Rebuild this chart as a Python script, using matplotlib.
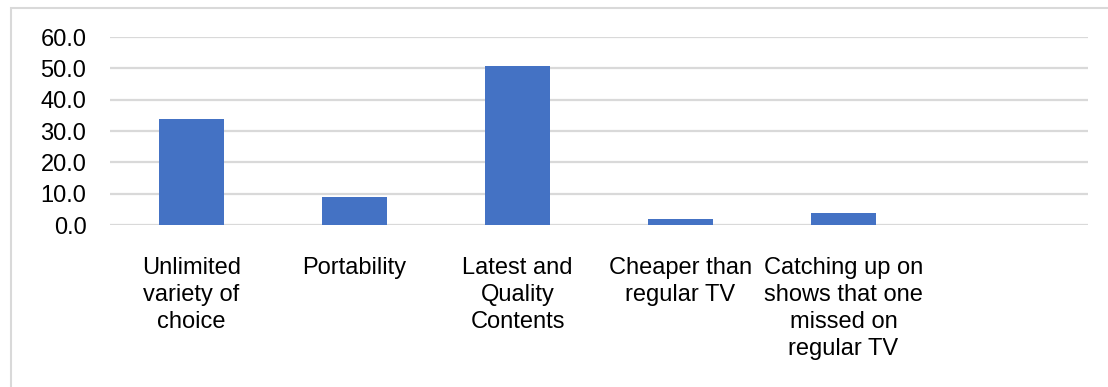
import matplotlib
matplotlib.use('Agg')
import matplotlib.pyplot as plt
import matplotlib.patches as mpatches
from matplotlib.ticker import FormatStrFormatter

CATEGORIES = [
    'Unlimited\nvariety of\nchoice',
    'Portability',
    'Latest and\nQuality\nContents',
    'Cheaper than\nregular TV',
    'Catching up on\nshows that one\nmissed on\nregular TV',
]
VALUES = [33.8, 8.9, 50.8, 1.9, 3.8]
Y_TICKS = [0, 10, 20, 30, 40, 50, 60]

BAR_COLOR = '#4472C4'
GRID_COLOR = '#d9d9d9'

plt.rcParams['font.family'] = ['Liberation Sans', 'DejaVu Sans']

fig = plt.figure(figsize=(11.08, 3.87), dpi=100)
ax = fig.add_axes([110 / 1108, 1 - 225 / 387, 978 / 1108, 188 / 387])

x = list(range(len(CATEGORIES)))
ax.bar(x, VALUES, width=0.4, color=BAR_COLOR, zorder=3)

# one empty slot on the right, same as the source layout
ax.set_xlim(-0.5, len(CATEGORIES) + 0.5)
ax.set_ylim(0, 60)
ax.set_yticks(Y_TICKS)
ax.yaxis.set_major_formatter(FormatStrFormatter('%.1f'))
ax.set_xticks(x)
ax.set_xticklabels(CATEGORIES, fontsize=17, linespacing=1.3)
ax.tick_params(axis='x', length=0, pad=23)
ax.tick_params(axis='y', length=0, pad=17, labelsize=17)

ax.grid(axis='y', color=GRID_COLOR, linewidth=1.6, zorder=0)
for s in ax.spines.values():
    s.set_visible(False)

# outer chart frame
frame = mpatches.Rectangle((11 / 1108, -0.2), 1.2, 1.2 - 8 / 387,
                           transform=fig.transFigure, fill=False,
                           edgecolor=GRID_COLOR, linewidth=1.5)
fig.patches.append(frame)

fig.savefig('out.png', dpi=100)
